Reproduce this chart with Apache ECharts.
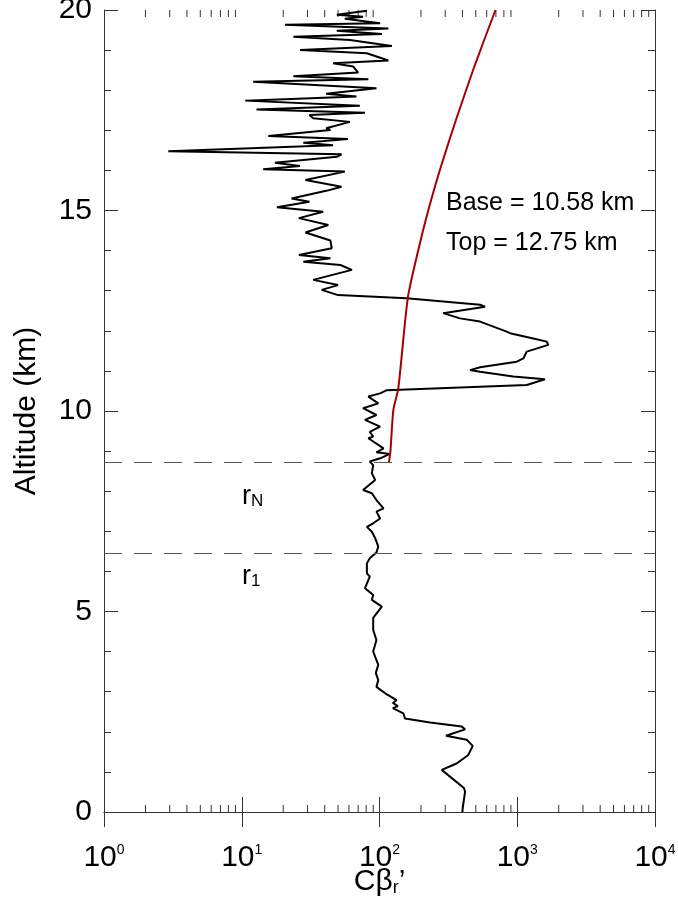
<!DOCTYPE html>
<html>
<head>
<meta charset="utf-8">
<script src="https://cdn.jsdelivr.net/npm/echarts@6/dist/echarts.min.js"></script>
<style>
  html, body { margin: 0; padding: 0; background: #fff; }
  #chart { width: 678px; height: 898px; }
</style>
</head>
<body>
<div id="chart"></div>
<script>
// lidar profile (bottom -> top)
const profileAlt = [0.00, 0.10, 0.51, 0.60, 1.05, 1.21, 1.42, 1.65, 1.80, 1.90, 2.06, 2.13, 2.23, 2.33, 2.46,
  2.59, 2.64, 2.72, 2.79, 2.96, 3.12, 3.29, 3.47, 3.67, 4.00, 4.29, 4.54, 4.84, 5.12, 5.29, 5.41, 5.58,
  5.87, 5.95, 6.20, 6.33, 6.47, 6.62, 6.83, 6.99, 7.11, 7.20, 7.32, 7.49, 7.57, 7.78, 7.95, 8.03, 8.28,
  8.45, 8.65, 8.74, 8.82, 8.93, 8.97, 9.07, 9.32, 9.36, 9.48, 9.61, 9.78, 9.90, 10.07, 10.19, 10.36,
  10.44, 10.52, 10.65, 10.79, 10.86, 10.98, 11.02, 11.09, 11.23, 11.31, 11.48, 11.65, 11.73, 11.81,
  11.94, 11.98, 12.23, 12.31, 12.44, 12.60, 12.65, 12.81, 12.89, 13.02, 13.14, 13.27, 13.52, 13.64,
  13.72, 13.81, 13.89, 14.06, 14.25, 14.45, 14.64, 14.81, 14.97, 15.08, 15.22, 15.30, 15.49, 15.59,
  15.76, 15.97, 16.03, 16.11, 16.19, 16.34, 16.40, 16.48, 16.63, 16.69, 16.78, 16.86, 17.01, 17.05,
  17.21, 17.30, 17.38, 17.44, 17.52, 17.61, 17.74, 17.84, 17.91, 18.05, 18.21, 18.27, 18.35, 18.44,
  18.59, 18.67, 18.74, 18.92, 19.00, 19.10, 19.25, 19.33, 19.40, 19.48, 19.54, 19.63, 19.67, 19.78,
  19.83, 19.88, 19.98];
const profileVal = [400, 402, 418, 410, 283, 363, 441, 475, 430, 304, 418, 395, 233, 153, 149,
  125, 136, 125, 133, 110, 95, 98, 94, 98, 90, 95, 90, 90, 104, 88, 90, 78.5,
  85, 81, 81, 85, 95, 98, 93, 88, 81, 90, 101, 95, 107, 95, 88, 76, 93,
  88, 90, 85, 101, 119, 95, 107, 83, 90, 85, 101, 78.5, 95, 76, 98, 83,
  101, 113, 1171, 1590, 936, 537, 454, 537, 991, 1107, 1171, 1680, 1636, 1308,
  886, 838, 537, 384, 290, 583, 537, 157, 50, 38, 50, 33, 63, 52,
  28, 44, 26, 45, 44, 29, 42.5, 26, 39, 18, 31, 23, 41, 53,
  29, 56, 14.3, 26.5, 17.4, 49, 53, 2.93, 46, 28, 59, 15.6, 44, 41,
  61, 33, 31, 78.5, 12.8, 72, 10.6, 68, 41, 95, 12.1, 83, 23.7, 70,
  64.5, 46, 116, 81, 26.5, 123, 61, 23.7, 104, 49, 116, 20.6, 101, 56,
  76, 49, 81];

// red curve above the reference level
const modelAlt = [8.72, 8.99, 10.02, 10.57, 12.85, 14.26, 15.26, 16.09, 17.17, 18.59, 20];
const modelVal = [117, 120, 126, 137, 161, 199, 237, 279, 352, 488, 695];

// reference levels r1 and rN (km)
const refLevels = [6.45, 8.72];

// minor ticks of the log axis
const minorTicks = [2, 3, 4, 5, 6, 7, 8, 9, 20, 30, 40, 50, 60, 70, 80, 90,
  200, 300, 400, 500, 600, 700, 800, 900, 2000, 3000, 4000, 5000, 6000, 7000, 8000, 9000];

const FONT = '"Liberation Sans", Arial, Helvetica, sans-serif';
const frame = '#333';

const chart = echarts.init(document.getElementById('chart'));

const tickRich = {
  b: { fontSize: 30, fontFamily: FONT, color: '#000' },
  s: { fontSize: 14, fontFamily: FONT, color: '#000', verticalAlign: 'top', lineHeight: 12 }
};

chart.setOption({
  animation: false,
  backgroundColor: '#fff',
  grid: { left: 104, right: 23, top: 10, bottom: 86, containLabel: false, outerBoundsMode: 'none' },
  xAxis: [
    {
      type: 'log', logBase: 10, min: 1, max: 10000, position: 'bottom',
      axisLine: { lineStyle: { color: frame, width: 1 } },
      axisTick: { inside: true, length: 15, lineStyle: { color: frame } },
      splitLine: { show: false },
      axisLabel: {
        margin: 31,
        formatter: v => '{b|10}{s|' + Math.round(Math.log10(v)) + '}',
        rich: tickRich
      },
      name: '{a|C\u03b2}{r|r}{a|\u2019}',
      nameLocation: 'middle',
      nameGap: 55,
      nameMoveOverlap: false,
      nameTextStyle: {
        rich: {
          a: { fontSize: 30, fontFamily: FONT, color: '#000' },
          r: { fontSize: 18, fontFamily: FONT, color: '#000', verticalAlign: 'bottom', lineHeight: 8 }
        }
      }
    },
    {
      type: 'log', logBase: 10, min: 1, max: 10000, position: 'top',
      axisLine: { lineStyle: { color: frame, width: 1 } },
      axisTick: { inside: true, length: 15, lineStyle: { color: frame } },
      axisLabel: { show: false },
      splitLine: { show: false }
    }
  ],
  yAxis: [
    {
      type: 'value', min: 0, max: 20, interval: 5, position: 'left',
      axisLine: { show: true, lineStyle: { color: frame, width: 1 } },
      axisTick: { show: true, inside: true, length: 14, lineStyle: { color: frame } },
      minorTick: { show: true, splitNumber: 5, length: 7, lineStyle: { color: frame } },
      splitLine: { show: false },
      axisLabel: { margin: 12, fontSize: 30, fontFamily: FONT, color: '#000' },
      name: 'Altitude (km)',
      nameLocation: 'middle',
      nameGap: 62,
      nameRotate: 90,
      nameMoveOverlap: false,
      nameTextStyle: { fontSize: 30, fontFamily: FONT, color: '#000' }
    },
    {
      type: 'value', min: 0, max: 20, interval: 5, position: 'right',
      axisLine: { show: true, lineStyle: { color: frame, width: 1 } },
      axisTick: { show: true, inside: true, length: 14, lineStyle: { color: frame } },
      minorTick: { show: true, splitNumber: 5, length: 7, lineStyle: { color: frame } },
      splitLine: { show: false },
      axisLabel: { show: false }
    }
  ],
  series: [
    {
      type: 'line',
      data: profileVal.map((v, i) => [v, profileAlt[i]]),
      showSymbol: false,
      lineStyle: { color: '#000', width: 2 },
      z: 3,
      markLine: {
        silent: true,
        symbol: 'none',
        label: { show: false },
        lineStyle: { color: '#555', width: 1, type: [18, 12] },
        data: refLevels.map(y => ({ yAxis: y }))
      }
    },
    {
      type: 'line',
      data: modelVal.map((v, i) => [v, modelAlt[i]]),
      showSymbol: false,
      smooth: 0.2,
      lineStyle: { color: '#a80000', width: 2 },
      z: 4
    },
    {
      type: 'custom',
      silent: true,
      clip: false,
      data: minorTicks.map(v => [v, 0]),
      renderItem: (params, api) => {
        const v = api.value(0);
        const b = api.coord([v, 0]);
        const t = api.coord([v, 20]);
        return {
          type: 'group',
          children: [
            { type: 'line', shape: { x1: b[0], y1: b[1], x2: b[0], y2: b[1] - 7 }, style: { stroke: frame, lineWidth: 1 } },
            { type: 'line', shape: { x1: t[0], y1: t[1], x2: t[0], y2: t[1] + 7 }, style: { stroke: frame, lineWidth: 1 } }
          ]
        };
      }
    }
  ],
  graphic: [
    { type: 'text', x: 446, y: 191, style: { text: 'Base = 10.58 km', font: '25px ' + FONT, fill: '#000' } },
    { type: 'text', x: 446, y: 231, style: { text: 'Top = 12.75 km', font: '25px ' + FONT, fill: '#000' } },
    {
      type: 'text', x: 242, y: 483,
      style: {
        text: '{r|r}{s|N}', fill: '#000',
        rich: {
          r: { fontSize: 27, fontFamily: FONT, fill: '#000' },
          s: { fontSize: 17, fontFamily: FONT, fill: '#000', verticalAlign: 'bottom', lineHeight: 6 }
        }
      }
    },
    {
      type: 'text', x: 242, y: 563,
      style: {
        text: '{r|r}{s|1}', fill: '#000',
        rich: {
          r: { fontSize: 27, fontFamily: FONT, fill: '#000' },
          s: { fontSize: 17, fontFamily: FONT, fill: '#000', verticalAlign: 'bottom', lineHeight: 6 }
        }
      }
    }
  ]
});
</script>
</body>
</html>
